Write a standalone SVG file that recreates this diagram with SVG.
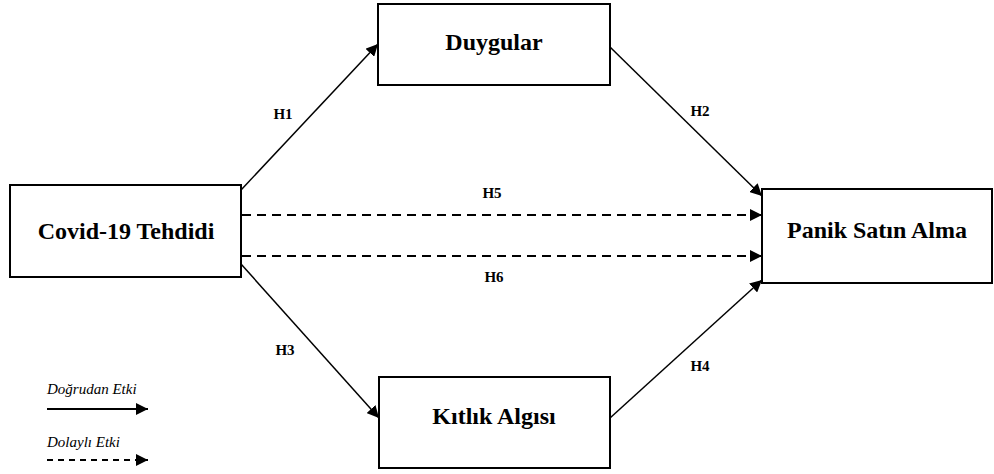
<svg xmlns="http://www.w3.org/2000/svg" width="994" height="474" viewBox="0 0 994 474">
<style>
.box{fill:#fff;stroke:#000;stroke-width:2}
text{font-family:'Liberation Serif','Times New Roman',serif}
.lbl{font-weight:bold;font-size:24px;text-anchor:middle;dominant-baseline:central}
.h{font-weight:bold;font-size:15px;text-anchor:middle;dominant-baseline:central}
.leg{font-style:italic;font-size:15px}
.ln{stroke:#000;stroke-width:1.5;fill:none;marker-end:url(#ah)}
.dash{stroke-width:2.2;stroke-dasharray:9 6}
</style>
<defs>
<marker id="ah" viewBox="0 0 10 10" refX="10" refY="5" markerWidth="12" markerHeight="12" markerUnits="userSpaceOnUse" orient="auto">
<path d="M0,0 L10,5 L0,10 Z" fill="#000"/>
</marker>
</defs>
<g id="connectors">
<line class="ln" x1="241" y1="190" x2="378" y2="44"/>
<line class="ln" x1="610" y1="47" x2="762" y2="196"/>
<line class="ln" x1="241" y1="264" x2="379" y2="418"/>
<line class="ln" x1="610" y1="418" x2="762" y2="280"/>
<line class="ln dash" x1="242" y1="215" x2="762" y2="215"/>
<line class="ln dash" x1="242" y1="256" x2="762" y2="256"/>
<text class="h" x="283" y="114">H1</text>
<text class="h" x="700" y="111">H2</text>
<text class="h" x="492" y="193">H5</text>
<text class="h" x="494" y="277">H6</text>
<text class="h" x="285" y="350">H3</text>
<text class="h" x="700" y="366">H4</text>
</g>
<g id="covid">
<rect class="box" x="10" y="185" width="231" height="92"/>
<text class="lbl" x="126" y="231">Covid-19 Tehdidi</text>
</g>
<g id="duygular">
<rect class="box" x="378" y="4" width="232" height="81"/>
<text class="lbl" x="494" y="42">Duygular</text>
</g>
<g id="panik">
<rect class="box" x="762" y="189" width="230" height="94"/>
<text class="lbl" x="877" y="230">Panik Satın Alma</text>
</g>
<g id="kitlik">
<rect class="box" x="379" y="377" width="231" height="91"/>
<text class="lbl" x="494" y="416">Kıtlık Algısı</text>
</g>
<g id="legend">
<text class="leg" x="47" y="394">Doğrudan Etki</text>
<line class="ln" x1="47" y1="409" x2="148" y2="409" style="stroke-width:2"/>
<text class="leg" x="47" y="447">Dolaylı Etki</text>
<line class="ln" x1="47" y1="460" x2="148" y2="460" style="stroke-width:2;stroke-dasharray:6 5"/>
</g>
</svg>
